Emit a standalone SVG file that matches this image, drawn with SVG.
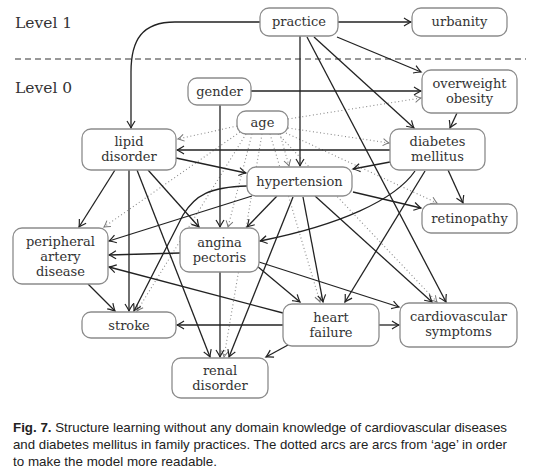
<svg xmlns="http://www.w3.org/2000/svg" width="540" height="475" viewBox="0 0 540 475">
<defs>
<style>
.n rect{fill:#fff;stroke:#8c8c8c;stroke-width:1.3}
.n text{font-size:13px;fill:#333;text-anchor:middle}
.lv{font-size:15.5px;fill:#333}
.e{fill:none;stroke:#222;stroke-width:1.3;marker-end:url(#a)}
.d{fill:none;stroke:#8a8a8a;stroke-width:1.1;stroke-dasharray:1 2.6;marker-end:url(#ad)}
.cap{font-family:"Liberation Sans",Arial,sans-serif;font-size:13.5px;fill:#222}
</style>
<marker id="a" viewBox="-8 -5 10 10" refX="0" refY="0" markerWidth="10" markerHeight="10" markerUnits="userSpaceOnUse" orient="auto">
<path d="M-7,-4 Q-2,-0.8 0,0 Q-2,0.8 -7,4" fill="none" stroke="#222" stroke-width="1.2"/>
</marker>
<marker id="ad" viewBox="-8 -5 10 10" refX="0" refY="0" markerWidth="10" markerHeight="10" markerUnits="userSpaceOnUse" orient="auto">
<path d="M-6,-3.5 Q-2,-0.7 0,0 Q-2,0.7 -6,3.5" fill="none" stroke="#777" stroke-width="1"/>
</marker>
</defs>
<rect width="540" height="475" fill="#fff"/>
<g font-family="DejaVu Serif, Liberation Serif, serif">
<text class="lv" x="15" y="28">Level 1</text>
<text class="lv" x="15" y="93">Level 0</text>
</g>
<line x1="15" y1="59" x2="526" y2="59" stroke="#333" stroke-width="1" stroke-dasharray="6 4"/>
<g id="connectors">
<g id="dotted">
<path class="d" d="M237,126 L178,139"/>
<path class="d" d="M288,119 L421,98"/>
<path class="d" d="M288,128 L389,143"/>
<path class="d" d="M280,134 L289,166"/>
<path class="d" d="M286,133 L437,203"/>
<path class="d" d="M240,132 L104,227"/>
<path class="d" d="M252,134 L228,227"/>
<path class="d" d="M246,134 L137,311"/>
<path class="d" d="M262,134 L224,357"/>
<path class="d" d="M270,134 L320,302"/>
<path class="d" d="M278,134 L437,302"/>
</g>
<path class="e" d="M338,22 L411,22"/>
<path class="e" d="M260,22 L175,22 C142,22 131,40 131,72 L131,128"/>
<path class="e" d="M300,36 L300,166"/>
<path class="e" d="M337,37 L421,72"/>
<path class="e" d="M314,37 L414,128"/>
<path class="e" d="M307,37 L446,302"/>
<path class="e" d="M251,91 L421,91"/>
<path class="e" d="M220,105 L220,227"/>
<path class="e" d="M176,158 L246,173"/>
<path class="e" d="M115,170 L79,227"/>
<path class="e" d="M129,170 L129,311"/>
<path class="e" d="M137,170 L210,357"/>
<path class="e" d="M148,170 L199,227"/>
<path class="e" d="M390,150 L177,150"/>
<path class="e" d="M390,162 L353,169"/>
<path class="e" d="M448,170 L463,203"/>
<path class="e" d="M415,171 C395,200 340,225 260,241"/>
<path class="e" d="M425,171 L345,302"/>
<path class="e" d="M457,113 L450,128"/>
<path class="e" d="M252,196 L109,241"/>
<path class="e" d="M277,196 L247,227"/>
<path class="e" d="M293,197 L229,357"/>
<path class="e" d="M303,197 L323,302"/>
<path class="e" d="M315,196 L432,302"/>
<path class="e" d="M353,192 L421,208"/>
<path class="e" d="M247,186 C210,187 195,195 183,215 L134,311"/>
<path class="e" d="M180,253 L109,255"/>
<path class="e" d="M220,272 L220,357"/>
<path class="e" d="M257,266 L300,302"/>
<path class="e" d="M259,262 L399,307"/>
<path class="e" d="M88,284 L115,311"/>
<path class="e" d="M283,325 L177,325"/>
<path class="e" d="M379,325 L399,325"/>
<path class="e" d="M288,345 L266,357"/>
<path class="e" d="M283,313 L109,267"/>
</g>
<g font-family="DejaVu Serif, Liberation Serif, serif">
<g id="practice" class="n"><rect x="260" y="8" width="78" height="28" rx="9"/><text x="299" y="26">practice</text></g>
<g id="urbanity" class="n"><rect x="412" y="8" width="95" height="28" rx="9"/><text x="459.5" y="26">urbanity</text></g>
<g id="gender" class="n"><rect x="188" y="78" width="63" height="27" rx="9"/><text x="219.5" y="95.5">gender</text></g>
<g id="age" class="n"><rect x="237" y="111" width="51" height="23" rx="9"/><text x="262.5" y="126.5">age</text></g>
<g id="overweight-obesity" class="n"><rect x="422" y="70" width="95" height="43" rx="9"/><text x="469.5" y="88">overweight</text><text x="469.5" y="103">obesity</text></g>
<g id="lipid-disorder" class="n"><rect x="82" y="129" width="94" height="41" rx="9"/><text x="129" y="146">lipid</text><text x="129" y="161">disorder</text></g>
<g id="diabetes-mellitus" class="n"><rect x="390" y="129" width="95" height="41" rx="9"/><text x="437.5" y="146">diabetes</text><text x="437.5" y="161">mellitus</text></g>
<g id="hypertension" class="n"><rect x="247" y="167" width="105" height="29" rx="9"/><text x="299.5" y="185.5">hypertension</text></g>
<g id="retinopathy" class="n"><rect x="422" y="204" width="95" height="29" rx="9"/><text x="469.5" y="222.5">retinopathy</text></g>
<g id="peripheral-artery-disease" class="n"><rect x="13" y="228" width="95" height="56" rx="9"/><text x="60.5" y="246">peripheral</text><text x="60.5" y="261">artery</text><text x="60.5" y="276">disease</text></g>
<g id="angina-pectoris" class="n"><rect x="180" y="228" width="79" height="44" rx="9"/><text x="219.5" y="246.5">angina</text><text x="219.5" y="261.5">pectoris</text></g>
<g id="stroke" class="n"><rect x="82" y="312" width="94" height="26" rx="9"/><text x="129" y="329.5">stroke</text></g>
<g id="renal-disorder" class="n"><rect x="172" y="358" width="96" height="40" rx="9"/><text x="220" y="374.5">renal</text><text x="220" y="389.5">disorder</text></g>
<g id="heart-failure" class="n"><rect x="283" y="304" width="96" height="42" rx="9"/><text x="331" y="321.5">heart</text><text x="331" y="336.5">failure</text></g>
<g id="cardiovascular-symptoms" class="n"><rect x="400" y="303" width="117" height="44" rx="9"/><text x="458.5" y="321">cardiovascular</text><text x="458.5" y="336">symptoms</text></g>
</g>
<text class="cap" x="13" y="432" textLength="494" lengthAdjust="spacingAndGlyphs"><tspan font-weight="bold">Fig. 7.</tspan>  Structure learning without any domain knowledge of cardiovascular diseases</text>
<text class="cap" x="13" y="449" textLength="494" lengthAdjust="spacingAndGlyphs">and diabetes mellitus in family practices. The dotted arcs are arcs from ‘age’ in order</text>
<text class="cap" x="13" y="466" textLength="204" lengthAdjust="spacingAndGlyphs">to make the model more readable.</text>
</svg>
